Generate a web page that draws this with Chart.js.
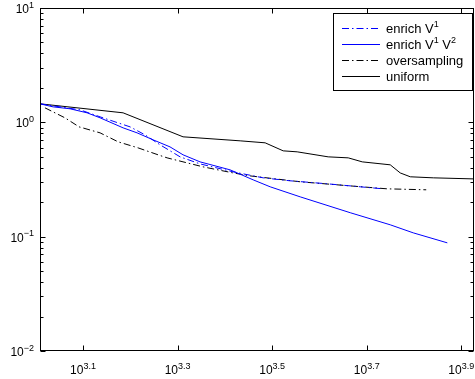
<!DOCTYPE html>
<html>
<head>
<meta charset="utf-8">
<script src="https://cdn.jsdelivr.net/npm/chart.js@4/dist/chart.umd.min.js"></script>
<style>
  body { margin: 0; background: #fff; }
  canvas { display: block; }
</style>
</head>
<body>
<canvas id="errChart" width="475" height="379"></canvas>
<script>
// values (log-log, unknowns vs error)
const enrichV1X = [1021, 1125, 1241, 1368, 1471, 1583, 1703, 1832, 2020, 2226, 2615, 3027, 3452, 4134, 4857, 5431]
const enrichV1Y = [1.452, 1.366, 1.286, 1.117, 1.010, 0.913, 0.777, 0.636, 0.499, 0.433, 0.369, 0.327, 0.308, 0.290, 0.273, 0.262]

const enrichV1V2X = [1021, 1088, 1182, 1284, 1368, 1530, 1638, 1771, 1923, 2049, 2226, 2577, 2883, 3132, 3625, 4625, 5620, 6286, 7421]
const enrichV1V2Y = [1.452, 1.366, 1.313, 1.211, 1.095, 0.895, 0.809, 0.703, 0.610, 0.520, 0.451, 0.384, 0.314, 0.273, 0.223, 0.162, 0.127, 0.108, 0.0883]

const oversamplingX = [1046, 1153, 1235, 1368, 1494, 1646, 1814, 1896, 2259, 2615, 2841, 3625, 4625, 5539, 6696]
const oversamplingY = [1.339, 1.095, 0.913, 0.809, 0.675, 0.598, 0.520, 0.489, 0.408, 0.361, 0.340, 0.302, 0.278, 0.262, 0.257]

const uniformX = [1021, 1530, 2049, 2706, 3056, 3337, 3572, 4154, 4580, 4904, 5620, 5900, 6196, 6930, 8450]
const uniformY = [1.452, 1.211, 0.747, 0.689, 0.662, 0.563, 0.552, 0.499, 0.489, 0.451, 0.425, 0.361, 0.334, 0.327, 0.320]

// tick labels are written as 10^exp
const xTickExps = ['3.1', '3.3', '3.5', '3.7', '3.9']
const yTickExps = ['\u22122', '\u22121', '0', '1']
const yTickVals = [0.01, 0.1, 1, 10]

const xMin = 1021
const xMax = 8450
const yMin = 0.01
const yMax = 10

// legend text, pieces flagged 1 are superscripts
const legendLabels = [
  [['enrich V', 0], ['1', 1]],
  [['enrich V', 0], ['1', 1], [' V', 0], ['2', 1]],
  [['oversampling', 0]],
  [['uniform', 0]]
]

const FONT = '"Liberation Sans", Arial, Helvetica, sans-serif'
const dashDot = [7, 3, 1.5, 3]

function pts(xs, ys){
  return xs.map(function(x, i){ return {x: x, y: ys[i]} })
}

const seriesStyle = [
  {color: '#0000ff', dash: dashDot},
  {color: '#0000ff', dash: []},
  {color: '#000000', dash: dashDot},
  {color: '#000000', dash: []}
]

function drawRich(ctx, parts, x, y, size){
  // parts: [text, isSup]
  let cx = x
  parts.forEach(function(p){
    if(p[1]){
      ctx.font = Math.round(size * 0.72) + 'px ' + FONT
      ctx.fillText(p[0], cx, y - size * 0.45)
    } else {
      ctx.font = size + 'px ' + FONT
      ctx.fillText(p[0], cx, y)
    }
    cx += ctx.measureText(p[0]).width
  })
  return cx - x
}

function richWidth(ctx, parts, size){
  let w = 0
  parts.forEach(function(p){
    ctx.font = (p[1] ? Math.round(size * 0.72) : size) + 'px ' + FONT
    w += ctx.measureText(p[0]).width
  })
  return w
}

const matlabAxes = {
  id: 'matlabAxes',
  afterDraw(chart){
    const ctx = chart.ctx
    const a = chart.chartArea
    const xs = chart.scales.x
    const ys = chart.scales.y
    const L = Math.round(a.left) + 0.5
    const R = Math.round(a.right) - 0.5
    const T = Math.round(a.top) + 0.5
    const B = Math.round(a.bottom) - 0.5

    ctx.save()
    ctx.strokeStyle = '#000'
    ctx.lineWidth = 1
    ctx.setLineDash([])
    ctx.strokeRect(L, T, R - L, B - T)

    ctx.beginPath()
    xTickExps.forEach(function(e){
      const px = Math.round(xs.getPixelForValue(Math.pow(10, parseFloat(e)))) + 0.5
      ctx.moveTo(px, B); ctx.lineTo(px, B - 5)
      ctx.moveTo(px, T); ctx.lineTo(px, T + 5)
    })
    yTickVals.forEach(function(v, i){
      for(let k = 1; k <= 9; k++){
        if(i == yTickVals.length - 1 && k > 1) break
        const py = Math.round(ys.getPixelForValue(k * v)) + 0.5
        const len = k == 1 ? 5 : 3
        ctx.moveTo(L, py); ctx.lineTo(L + len, py)
        ctx.moveTo(R, py); ctx.lineTo(R - len, py)
      }
    })
    ctx.stroke()

    // tick labels
    ctx.fillStyle = '#000'
    ctx.textBaseline = 'alphabetic'
    ctx.textAlign = 'left'
    const size = 12
    xTickExps.forEach(function(e){
      const parts = [['10', 0], [e, 1]]
      const px = xs.getPixelForValue(Math.pow(10, parseFloat(e)))
      const w = richWidth(ctx, parts, size)
      drawRich(ctx, parts, px - w / 2, 374, size)
    })
    yTickExps.forEach(function(e, i){
      const parts = [['10', 0], [e, 1]]
      const py = ys.getPixelForValue(yTickVals[i])
      const w = richWidth(ctx, parts, size)
      drawRich(ctx, parts, 34 - w, py + 5, size)
    })

    // legend box
    const bx = 333.5, by = 13.5, bw = 139, bh = 77
    ctx.fillStyle = '#fff'
    ctx.fillRect(bx, by, bw, bh)
    ctx.strokeRect(bx, by, bw, bh)
    legendLabels.forEach(function(parts, i){
      const cy = 28.5 + i * 16
      ctx.beginPath()
      ctx.strokeStyle = seriesStyle[i].color
      ctx.setLineDash(seriesStyle[i].dash)
      ctx.moveTo(342, cy); ctx.lineTo(380, cy)
      ctx.stroke()
      ctx.setLineDash([])
      ctx.fillStyle = '#000'
      drawRich(ctx, parts, 386, cy + 4.5, 13)
    })
    ctx.restore()
  }
}

const datasets = [
  {label: 'enrich V1', data: pts(enrichV1X, enrichV1Y)},
  {label: 'enrich V1 V2', data: pts(enrichV1V2X, enrichV1V2Y)},
  {label: 'oversampling', data: pts(oversamplingX, oversamplingY)},
  {label: 'uniform', data: pts(uniformX, uniformY)}
].map(function(d, i){
  d.borderColor = seriesStyle[i].color
  d.borderDash = seriesStyle[i].dash
  d.borderWidth = 1
  d.pointRadius = 0
  d.tension = 0
  d.fill = false
  return d
})

const ctx = document.getElementById('errChart').getContext('2d')
const myChart = new Chart(ctx, {
  type: 'line',
  data: { datasets: datasets },
  options: {
    responsive: false,
    animation: false,
    layout: { padding: { left: 40, top: 8, right: 1, bottom: 28 } },
    plugins: { legend: { display: false }, tooltip: { enabled: false } },
    scales: {
      x: {
        type: 'logarithmic', min: xMin, max: xMax,
        grid: { display: false }, border: { display: false }, ticks: { display: false },
        afterFit: function(s){ s.height = 0 }
      },
      y: {
        type: 'logarithmic', min: yMin, max: yMax,
        grid: { display: false }, border: { display: false }, ticks: { display: false },
        afterFit: function(s){ s.width = 0 }
      }
    }
  },
  plugins: [matlabAxes]
})
</script>
</body>
</html>
